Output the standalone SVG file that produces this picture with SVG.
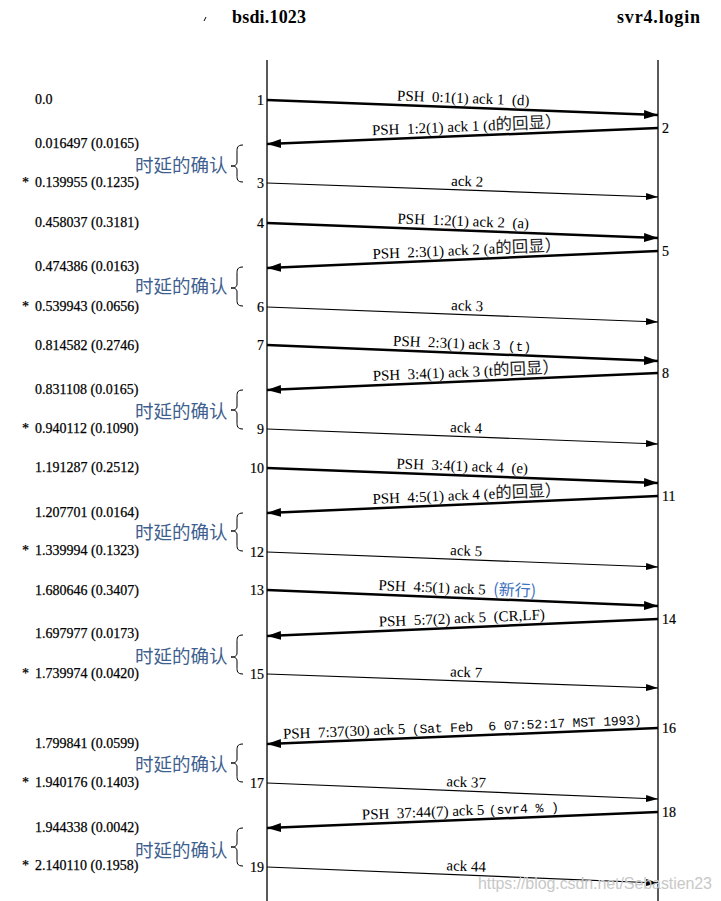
<svg xmlns="http://www.w3.org/2000/svg" width="721" height="901" viewBox="0 0 721 901">
<style>
.hdr{font-family:"Liberation Serif",serif;font-weight:bold;font-size:18px;fill:#000}
.tm{font-family:"Liberation Serif",serif;font-size:14px;fill:#000;stroke:#000;stroke-width:0.25}
.num{font-family:"Liberation Serif",serif;font-size:14px;fill:#000;stroke:#000;stroke-width:0.2}
.numl{text-anchor:end}
.lbl{font-family:"Liberation Serif","Noto Sans CJK SC",serif;font-size:15px;fill:#000;white-space:pre;text-anchor:middle}
.lbls{font-family:"Liberation Serif",serif;font-size:15px;fill:#000;white-space:pre;text-anchor:start}
.mono{font-family:"Liberation Mono",monospace;font-size:13px;white-space:pre}
.cjk{font-family:"Noto Sans CJK SC",sans-serif;font-size:16.5px;fill:#222}
.note{font-family:"Noto Sans CJK SC",sans-serif;font-size:18.5px;fill:#3f5f8f}
.blue{font-family:"Noto Sans CJK SC",sans-serif;font-size:16px;fill:#3a6fc0}
.thick{stroke:#000;stroke-width:2.5;fill:none;marker-end:url(#ah)}
.thin{stroke:#000;stroke-width:1.2;fill:none;marker-end:url(#ahs)}
.life{stroke:#000;stroke-width:1.3}
.brace{stroke:#000;stroke-width:1;fill:none}
.wm{font-family:"Liberation Sans",sans-serif;font-size:16px;fill:#c8c8c8}
</style>
<defs>
<marker id="ah" markerUnits="userSpaceOnUse" markerWidth="15" markerHeight="10" refX="14" refY="5" orient="auto"><path d="M0,0.5 L14,5 L0,9.5 z" fill="#000"/></marker>
<marker id="ahs" markerUnits="userSpaceOnUse" markerWidth="13" markerHeight="8" refX="12" refY="4" orient="auto"><path d="M0,0.5 L12,4 L0,7.5 z" fill="#000"/></marker>
</defs>
<rect width="721" height="901" fill="#fff"/>

<g id="hosts">
<text class="hdr" x="232" y="23" textLength="74">bsdi.1023</text>
<text class="hdr" x="617" y="23" textLength="83">svr4.login</text>
<path d="M204,21 L206,17" stroke="#000" stroke-width="1"/>
<line class="life" x1="267" y1="60" x2="267" y2="901"/>
<line class="life" x1="658" y1="60" x2="658" y2="901"/>
</g>

<g id="times">
<text class="tm" x="35" y="104">0.0</text>
<text class="tm" x="35" y="148">0.016497 (0.0165)</text>
<text class="tm" x="22" y="187">*</text><text class="tm" x="35" y="187">0.139955 (0.1235)</text>
<text class="tm" x="35" y="227">0.458037 (0.3181)</text>
<text class="tm" x="35" y="271">0.474386 (0.0163)</text>
<text class="tm" x="22" y="311">*</text><text class="tm" x="35" y="311">0.539943 (0.0656)</text>
<text class="tm" x="35" y="350">0.814582 (0.2746)</text>
<text class="tm" x="35" y="394">0.831108 (0.0165)</text>
<text class="tm" x="22" y="433">*</text><text class="tm" x="35" y="433">0.940112 (0.1090)</text>
<text class="tm" x="35" y="472">1.191287 (0.2512)</text>
<text class="tm" x="35" y="516.5">1.207701 (0.0164)</text>
<text class="tm" x="22" y="555">*</text><text class="tm" x="35" y="555">1.339994 (0.1323)</text>
<text class="tm" x="35" y="595">1.680646 (0.3407)</text>
<text class="tm" x="35" y="638">1.697977 (0.0173)</text>
<text class="tm" x="22" y="678">*</text><text class="tm" x="35" y="678">1.739974 (0.0420)</text>
<text class="tm" x="35" y="747.5">1.799841 (0.0599)</text>
<text class="tm" x="22" y="786.5">*</text><text class="tm" x="35" y="786.5">1.940176 (0.1403)</text>
<text class="tm" x="35" y="831.5">1.944338 (0.0042)</text>
<text class="tm" x="22" y="870">*</text><text class="tm" x="35" y="870">2.140110 (0.1958)</text>
</g>

<g id="delayed-acks">
<text class="note" x="135" y="171.5">时延的确认</text>
<path class="brace" d="M243,145 C237,145 237,148 237,152 L237,162 C237,165 235,166 231,166 C235,166 237,167 237,170 L237,175 C237,179 237,182 243,182"/>
<text class="note" x="135" y="292.5">时延的确认</text>
<path class="brace" d="M243,267 C237,267 237,270 237,274 L237,284 C237,287 235,288 231,288 C235,288 237,289 237,292 L237,299 C237,303 237,306 243,306"/>
<text class="note" x="135" y="417.5">时延的确认</text>
<path class="brace" d="M243,390 C237,390 237,393 237,397 L237,406 C237,409 235,410 231,410 C235,410 237,411 237,414 L237,422 C237,426 237,429 243,429"/>
<text class="note" x="135" y="538.5">时延的确认</text>
<path class="brace" d="M243,513 C237,513 237,516 237,520 L237,527 C237,530 235,531 231,531 C235,531 237,532 237,535 L237,544 C237,548 237,551 243,551"/>
<text class="note" x="135" y="662.5">时延的确认</text>
<path class="brace" d="M243,635 C237,635 237,638 237,642 L237,653 C237,656 235,657 231,657 C235,657 237,658 237,661 L237,667 C237,671 237,674 243,674"/>
<text class="note" x="135" y="771">时延的确认</text>
<path class="brace" d="M243,744 C237,744 237,747 237,751 L237,759 C237,762 235,763 231,763 C235,763 237,764 237,767 L237,775 C237,779 237,782 243,782"/>
<text class="note" x="135" y="856.5">时延的确认</text>
<path class="brace" d="M243,828 C237,828 237,831 237,835 L237,843 C237,846 235,847 231,847 C235,847 237,848 237,851 L237,859 C237,863 237,866 243,866"/>
</g>

<g id="connectors">
<line class="thick" x1="267" y1="100" x2="658" y2="115"/>
<line class="thick" x1="658" y1="128" x2="267" y2="144"/>
<line class="thin" x1="267" y1="183" x2="658" y2="197"/>
<line class="thick" x1="267" y1="223" x2="658" y2="238"/>
<line class="thick" x1="658" y1="251" x2="267" y2="268"/>
<line class="thin" x1="267" y1="307" x2="658" y2="322"/>
<line class="thick" x1="267" y1="345" x2="658" y2="361"/>
<line class="thick" x1="658" y1="373" x2="267" y2="390"/>
<line class="thin" x1="267" y1="429" x2="658" y2="444"/>
<line class="thick" x1="267" y1="468" x2="658" y2="483"/>
<line class="thick" x1="658" y1="496" x2="267" y2="513"/>
<line class="thin" x1="267" y1="552" x2="658" y2="567"/>
<line class="thick" x1="267" y1="590" x2="658" y2="606"/>
<line class="thick" x1="658" y1="619" x2="267" y2="636"/>
<line class="thin" x1="267" y1="674" x2="658" y2="688"/>
<line class="thick" x1="658" y1="728" x2="267" y2="744"/>
<line class="thin" x1="267" y1="783" x2="658" y2="799"/>
<line class="thick" x1="658" y1="812" x2="267" y2="828"/>
<line class="thin" x1="267" y1="867" x2="658" y2="883"/>
</g>

<g id="segment-numbers">
<text class="num numl" x="264" y="105">1</text>
<text class="num" x="662" y="133">2</text>
<text class="num numl" x="264" y="188">3</text>
<text class="num numl" x="264" y="228">4</text>
<text class="num" x="662" y="256">5</text>
<text class="num numl" x="264" y="312">6</text>
<text class="num numl" x="264" y="350">7</text>
<text class="num" x="662" y="378">8</text>
<text class="num numl" x="264" y="434">9</text>
<text class="num numl" x="264" y="473">10</text>
<text class="num" x="662" y="501">11</text>
<text class="num numl" x="264" y="557">12</text>
<text class="num numl" x="264" y="595">13</text>
<text class="num" x="662" y="624">14</text>
<text class="num numl" x="264" y="679">15</text>
<text class="num" x="662" y="733">16</text>
<text class="num numl" x="264" y="788">17</text>
<text class="num" x="662" y="817">18</text>
<text class="num numl" x="264" y="872">19</text>
</g>

<g id="labels">
<text class="lbl" transform="translate(463,103) rotate(2.197)">PSH  0:1(1) ack 1  (d)</text>
<text class="lbl" transform="translate(467,131.3) rotate(-2.343)">PSH  1:2(1) ack 1 (d<tspan class="cjk">的回显）</tspan></text>
<text class="lbl" transform="translate(467,186.2) rotate(2.05)">ack 2</text>

<text class="lbl" transform="translate(463,226) rotate(2.197)">PSH  1:2(1) ack 2  (a)</text>
<text class="lbl" transform="translate(467,254.8) rotate(-2.49)">PSH  2:3(1) ack 2 (a<tspan class="cjk">的回显）</tspan></text>
<text class="lbl" transform="translate(467,310.7) rotate(2.197)">ack 3</text>

<text class="lbl" transform="translate(462,348.5) rotate(2.343)">PSH  2:3(1) ack 3  <tspan class="mono" font-size="14px">(t)</tspan></text>
<text class="lbl" transform="translate(466,376.8) rotate(-2.49)">PSH  3:4(1) ack 3 (t<tspan class="cjk">的回显）</tspan></text>
<text class="lbl" transform="translate(466,432.6) rotate(2.197)">ack 4</text>

<text class="lbl" transform="translate(462,471) rotate(2.197)">PSH  3:4(1) ack 4  (e)</text>
<text class="lbl" transform="translate(467,499.8) rotate(-2.49)">PSH  4:5(1) ack 4 (e<tspan class="cjk">的回显）</tspan></text>
<text class="lbl" transform="translate(466,555.6) rotate(2.197)">ack 5</text>

<text class="lbl" transform="translate(457,593.3) rotate(2.343)">PSH  4:5(1) ack 5  <tspan class="blue">(新行)</tspan></text>
<text class="lbl" transform="translate(462,623) rotate(-2.49)">PSH  5:7(2) ack 5  (CR,LF)</text>
<text class="lbl" transform="translate(466,677.1) rotate(2.05)">ack 7</text>

<g transform="translate(462,731.5) rotate(-2.343)">
<text class="lbls" x="-179" y="0">PSH  7:37(30) ack 5</text>
<text class="mono" x="-50" y="0" textLength="230">(Sat Feb  6 07:52:17 MST 1993)</text>
</g>
<text class="lbl" transform="translate(466,787.1) rotate(2.343)">ack 37</text>
<g transform="translate(462,815.5) rotate(-2.343)">
<text class="lbls" x="-100" y="0">PSH  37:44(7) ack 5</text>
<text class="mono" x="27" y="0">(svr4 % )</text>
</g>
<text class="lbl" transform="translate(466,871.1) rotate(2.343)">ack 44</text>
</g>

<text class="wm" x="478" y="889" textLength="234">https://blog.csdn.net/Sebastien23</text>
</svg>
